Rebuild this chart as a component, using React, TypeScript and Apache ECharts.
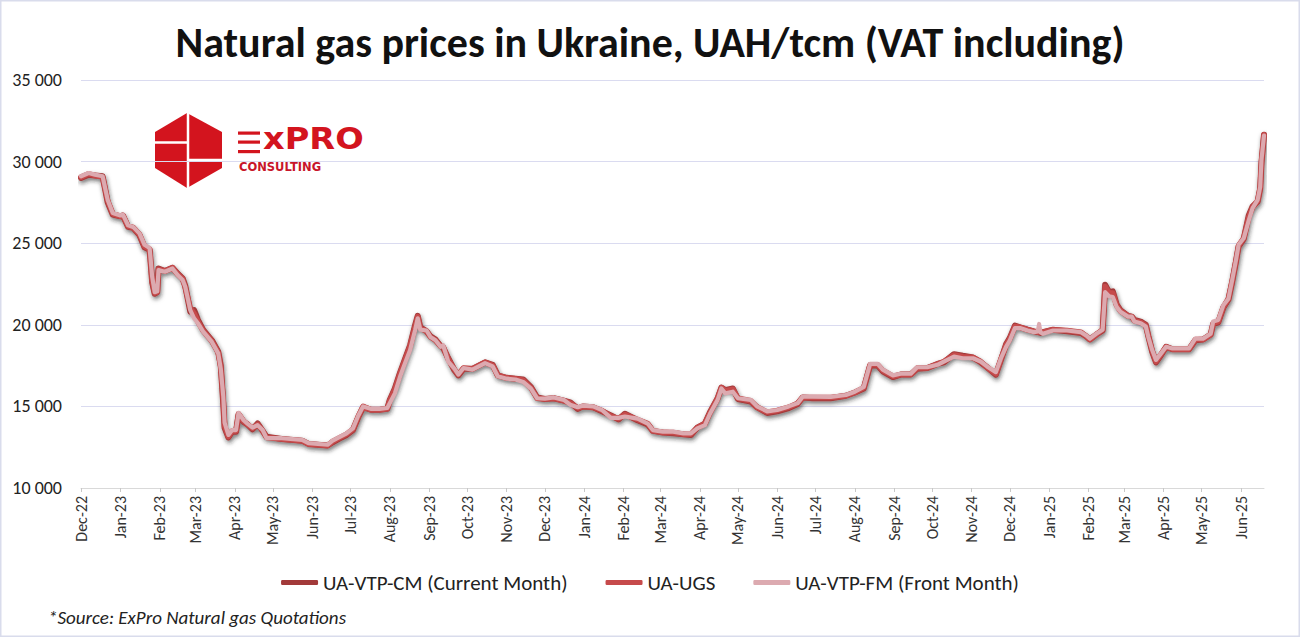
import React, { useEffect, useRef } from "react";
import * as echarts from "echarts";

// Observation dates (irregular sampling of the daily quotes)
const dates = [
  "2022-12-01","2022-12-07","2022-12-12","2022-12-18","2022-12-22","2022-12-26",
  "2023-01-01","2023-01-03","2023-01-07","2023-01-11","2023-01-16","2023-01-20","2023-01-24","2023-01-26","2023-01-28","2023-01-30","2023-01-31",
  "2023-02-05","2023-02-11","2023-02-15","2023-02-19","2023-02-21","2023-02-25","2023-02-28",
  "2023-03-03","2023-03-07","2023-03-14","2023-03-19","2023-03-21","2023-03-23","2023-03-24","2023-03-27","2023-03-30",
  "2023-04-02","2023-04-04","2023-04-08","2023-04-11","2023-04-15","2023-04-19","2023-04-23","2023-04-26",
  "2023-05-08","2023-05-24","2023-05-29",
  "2023-06-13","2023-06-17","2023-06-23","2023-06-28",
  "2023-07-03","2023-07-07","2023-07-11","2023-07-17","2023-07-24","2023-07-30",
  "2023-08-01","2023-08-05","2023-08-09","2023-08-13","2023-08-17","2023-08-21","2023-08-23","2023-08-25","2023-08-30",
  "2023-09-02","2023-09-06","2023-09-10","2023-09-12","2023-09-16","2023-09-21","2023-09-24","2023-09-28",
  "2023-10-05","2023-10-10","2023-10-15","2023-10-21","2023-10-25",
  "2023-11-01","2023-11-08","2023-11-14","2023-11-20","2023-11-25",
  "2023-12-01","2023-12-08","2023-12-16","2023-12-21","2023-12-27","2023-12-31",
  "2024-01-08","2024-01-15","2024-01-22","2024-01-28",
  "2024-02-02","2024-02-12","2024-02-20","2024-02-24",
  "2024-03-03","2024-03-11","2024-03-19","2024-03-25","2024-03-30",
  "2024-04-05","2024-04-09","2024-04-15","2024-04-18","2024-04-21","2024-04-27",
  "2024-05-01","2024-05-11","2024-05-16","2024-05-24",
  "2024-06-01","2024-06-10","2024-06-17","2024-06-21","2024-06-29",
  "2024-07-13","2024-07-25",
  "2024-08-01","2024-08-08","2024-08-13","2024-08-19","2024-08-23","2024-08-31",
  "2024-09-06","2024-09-14","2024-09-19","2024-09-27",
  "2024-10-05","2024-10-10","2024-10-18","2024-10-25",
  "2024-11-02","2024-11-08","2024-11-13","2024-11-20","2024-11-24","2024-11-28",
  "2024-12-01","2024-12-05","2024-12-09","2024-12-15","2024-12-20","2024-12-23","2024-12-24","2024-12-25","2024-12-27",
  "2025-01-04","2025-01-15","2025-01-26","2025-01-30",
  "2025-02-02","2025-02-07","2025-02-12","2025-02-14","2025-02-17","2025-02-20","2025-02-23","2025-02-26",
  "2025-03-04","2025-03-07","2025-03-09","2025-03-14","2025-03-18","2025-03-20","2025-03-23","2025-03-26","2025-03-30",
  "2025-04-03","2025-04-08","2025-04-21","2025-04-26",
  "2025-05-02","2025-05-08","2025-05-10","2025-05-14","2025-05-18","2025-05-22","2025-05-25","2025-05-28","2025-05-30",
  "2025-06-03","2025-06-07","2025-06-10","2025-06-14","2025-06-16","2025-06-17","2025-06-19",
];

// UA-VTP-FM (Front Month), UAH/tcm
const frontMonth = [
  29100,29300,29200,29100,27650,26850,
  26700,26750,26100,26000,25600,24900,24700,22950,22000,22050,23350,
  23250,23450,23050,22750,22350,20900,20400,
  20100,19600,18950,18250,17300,15600,14000,13250,13550,
  13550,14600,14150,13950,13700,13850,13550,13050,
  13050,12950,12750,
  12650,12900,13150,13350,
  13650,14400,15000,14850,14850,14900,
  15200,15800,16800,17650,18450,19700,20400,19700,19650,
  19250,19050,18650,18750,17750,17300,16950,17350,
  17250,17450,17650,17450,16850,
  16700,16650,16500,16100,15500,
  15480,15550,15400,15100,14950,15050,
  15000,14780,14300,14300,
  14380,14250,13950,13550,
  13450,13450,13350,13350,13650,
  13850,14550,15400,16100,15800,15900,
  15500,15400,15000,14700,
  14780,15000,15200,15600,15600,
  15580,15700,
  15900,16200,17600,17600,17250,16900,
  17000,17000,17400,17400,
  17550,17750,18050,17950,
  17950,17750,17450,17100,17950,18650,
  19050,19800,19800,19650,19550,19600,20050,19550,19450,
  19650,19650,19550,19350,
  19150,19450,19700,22000,21750,21700,21100,20800,
  20500,20500,20200,20100,19900,19250,18450,17850,18250,
  18650,18550,18550,19150,
  19150,19450,20200,20300,21200,21600,22750,24000,24900,
  25300,26400,27150,27650,28450,30100,31600,
];

// UA-UGS, UAH/tcm
const ugs = [
  29050,29250,29150,29050,27600,26800,
  26650,26700,26050,25950,25550,24800,24650,22700,21950,22000,23400,
  23300,23500,23100,22800,22300,21000,20700,
  20200,19650,19000,18300,17400,15300,13800,13150,13500,
  13500,14550,14100,13900,13650,13900,13500,13100,
  13000,12900,12700,
  12600,12850,13100,13300,
  13600,14350,15000,14800,14800,14850,
  15350,16050,17000,17850,18700,19900,20500,19800,19600,
  19250,19050,18700,18650,17900,17250,16950,17350,
  17300,17500,17700,17500,16900,
  16750,16700,16600,16150,15500,
  15450,15500,15350,15200,14900,15000,
  14950,14750,14400,14250,
  14500,14200,13950,13500,
  13400,13400,13300,13300,13700,
  13950,14600,15500,16150,15950,16050,
  15500,15350,14950,14650,
  14750,14950,15200,15550,15550,
  15550,15650,
  15850,16150,17550,17550,17200,16850,
  16950,16950,17350,17350,
  17600,17750,18150,18050,
  18000,17750,17400,17000,17900,18750,
  19150,19900,19850,19700,19600,19550,19600,19550,19550,
  19700,19650,19550,19300,
  19100,19400,19700,22350,21950,21950,21200,20850,
  20550,20500,20250,20150,19950,19300,18400,17750,18200,
  18650,18500,18500,19100,
  19100,19400,20100,20200,21100,21600,22700,23950,24850,
  25300,26600,27200,27600,28400,30000,31650,
];

// UA-VTP-CM (Current Month), UAH/tcm
const currentMonth = [
  29000,29200,29150,29100,27500,26750,
  26650,26700,26000,25950,25500,24750,24600,22600,21900,22000,23450,
  23300,23500,23150,22850,22400,20800,20900,
  20300,19700,19050,18350,17500,15100,13700,13100,13450,
  13450,14500,14050,13900,13600,13950,13500,13150,
  13000,12900,12700,
  12600,12800,13050,13250,
  13550,14300,14950,14800,14800,14850,
  15400,16100,17050,17900,18750,20000,20550,19850,19600,
  19300,19100,18700,18600,17950,17200,16900,17300,
  17300,17500,17700,17550,16900,
  16750,16700,16650,16200,15550,
  15450,15500,15350,15250,14850,15000,
  14950,14700,14450,14200,
  14550,14150,13900,13500,
  13400,13350,13300,13250,13700,
  13950,14650,15500,16150,16000,16100,
  15450,15300,14950,14600,
  14700,14900,15150,15550,15500,
  15500,15650,
  15850,16100,17500,17500,17150,16800,
  16950,16950,17300,17350,
  17600,17700,18200,18100,
  18000,17700,17400,16950,17850,18800,
  19200,19950,19850,19700,19600,19550,19550,19500,19550,
  19700,19600,19500,19300,
  19100,19400,19650,22450,22000,22050,21250,20900,
  20550,20500,20300,20200,20000,19300,18350,17700,18150,
  18650,18500,18500,19050,
  19100,19400,20050,20150,21050,21550,22650,23900,24800,
  25250,26700,27250,27550,28350,29900,31650,
];

const yTicksMin = 10000;
const yTicksMax = 35000;
const yTickStep = 5000;
const axisStart = "2022-12-01";
const axisEnd = "2025-06-19";

const MONTHS = ["Jan","Feb","Mar","Apr","May","Jun","Jul","Aug","Sep","Oct","Nov","Dec"];

const SERIES = [
  { name: "UA-VTP-CM (Current Month)", values: currentMonth, color: "#a23a3a", width: 6 },
  { name: "UA-UGS", values: ugs, color: "#c64a4b", width: 5.5 },
  { name: "UA-VTP-FM (Front Month)", values: frontMonth, color: "#dcaab0", width: 4.2 },
];

const FONT = "Carlito, Lato, 'Open Sans', sans-serif";
const LOGO_RED = "#d3141e";

export default function App() {
  const ref = useRef<HTMLDivElement | null>(null);

  useEffect(() => {
    if (!ref.current) return;
    const chart = echarts.init(ref.current, undefined, { renderer: "svg" });

    const series = SERIES.map((s, i) => ({
      name: s.name,
      type: "line",
      showSymbol: false,
      symbol: "none",
      z: 2 + i,
      data: dates.map((d, k) => [d, s.values[k]]),
      lineStyle: {
        color: s.color,
        width: s.width,
        cap: "round",
        join: "round",
        ...(i === 0
          ? { shadowColor: "rgba(30,30,30,0.6)", shadowBlur: 4, shadowOffsetX: 1, shadowOffsetY: 2.5 }
          : {}),
      },
      itemStyle: { color: s.color },
    }));

    chart.setOption({
      animation: false,
      backgroundColor: "#ffffff",
      textStyle: { fontFamily: FONT },
      title: {
        text: "Natural gas prices in Ukraine, UAH/tcm (VAT including)",
        left: "center",
        top: 16,
        textStyle: { fontFamily: FONT, fontSize: 42, fontWeight: "bold", color: "#111111" },
      },
      grid: { left: 81, right: 36, top: 80, bottom: 149, containLabel: false },
      legend: {
        top: 567,
        left: "center",
        icon: "roundRect",
        itemWidth: 37,
        itemHeight: 5,
        itemGap: 38,
        textStyle: { fontFamily: FONT, fontSize: 21, color: "#222222" },
        data: SERIES.map((s) => s.name),
      },
      xAxis: {
        type: "time",
        min: axisStart,
        max: axisEnd,
        splitNumber: 31,
        minInterval: 28 * 86400000,
        maxInterval: 31 * 86400000,
        axisLine: { lineStyle: { color: "#d9d9d9", width: 1 } },
        axisTick: { show: true, length: 4, lineStyle: { color: "#c8c8c8" } },
        splitLine: { show: false },
        axisLabel: {
          rotate: 90,
          margin: 8,
          fontSize: 16,
          color: "#333333",
          fontFamily: FONT,
          hideOverlap: false,
          formatter: (val: number) => {
            const d = new Date(val);
            if (d.getDate() !== 1) return "";
            return MONTHS[d.getMonth()] + "-" + String(d.getFullYear()).slice(2);
          },
        },
      },
      yAxis: {
        type: "value",
        min: yTicksMin,
        max: yTicksMax,
        interval: yTickStep,
        axisLine: { show: false },
        axisTick: { show: false },
        splitLine: { lineStyle: { color: "#dadbf0", width: 1 } },
        axisLabel: {
          margin: 19,
          fontSize: 18,
          color: "#222222",
          fontFamily: FONT,
          formatter: (v: number) => String(v).replace(/\B(?=(\d{3})+(?!\d))/g, " "),
        },
      },
      series,
      graphic: [
        {
          type: "rect",
          silent: true,
          z: 0,
          shape: { x: 0.75, y: 0.75, width: 1298.5, height: 635.5 },
          style: { fill: "none", stroke: "#d9dcec", lineWidth: 1.5 },
        },
        {
          type: "group",
          z: 100,
          children: [
            {
              type: "polygon",
              shape: {
                points: [
                  [187, 113], [222, 132], [222, 168], [187, 188], [155, 168], [155, 132],
                ],
              },
              style: { fill: LOGO_RED },
            },
            { type: "line", shape: { x1: 188, y1: 112, x2: 188, y2: 189 }, style: { stroke: "#ffffff", lineWidth: 2.5 } },
            { type: "line", shape: { x1: 154, y1: 142.5, x2: 188, y2: 142.5 }, style: { stroke: "#ffffff", lineWidth: 2.5 } },
            { type: "line", shape: { x1: 188, y1: 160, x2: 223, y2: 160 }, style: { stroke: "#ffffff", lineWidth: 2.5 } },
            { type: "rect", shape: { x: 238, y: 131.5, width: 22, height: 3.2 }, style: { fill: LOGO_RED } },
            { type: "rect", shape: { x: 238, y: 140.5, width: 22, height: 3.2 }, style: { fill: LOGO_RED } },
            { type: "rect", shape: { x: 238, y: 150, width: 22, height: 3.2 }, style: { fill: LOGO_RED } },
            {
              type: "text",
              x: 263,
              y: 153.5,
              scaleX: 1.12,
              style: {
                text: "xPRO",
                fill: LOGO_RED,
                font: "bold 30px 'DejaVu Sans', sans-serif",
                verticalAlign: "bottom",
              },
            },
            {
              type: "text",
              x: 239,
              y: 167,
              style: {
                text: "CONSULTING",
                fill: "#c8152a",
                font: "bold 11.5px 'DejaVu Sans', sans-serif",
                verticalAlign: "middle",
              },
            },
          ],
        },
        {
          type: "text",
          x: 48,
          y: 617,
          style: {
            text: "*Source: ExPro Natural gas Quotations",
            fill: "#222222",
            font: "italic 19px " + FONT,
            verticalAlign: "middle",
          },
        },
      ],
    });

    return () => chart.dispose();
  }, []);

  return (
    <div
      ref={ref}
      style={{ position: "fixed", left: 0, top: 0, width: 1300, height: 637 }}
    />
  );
}
